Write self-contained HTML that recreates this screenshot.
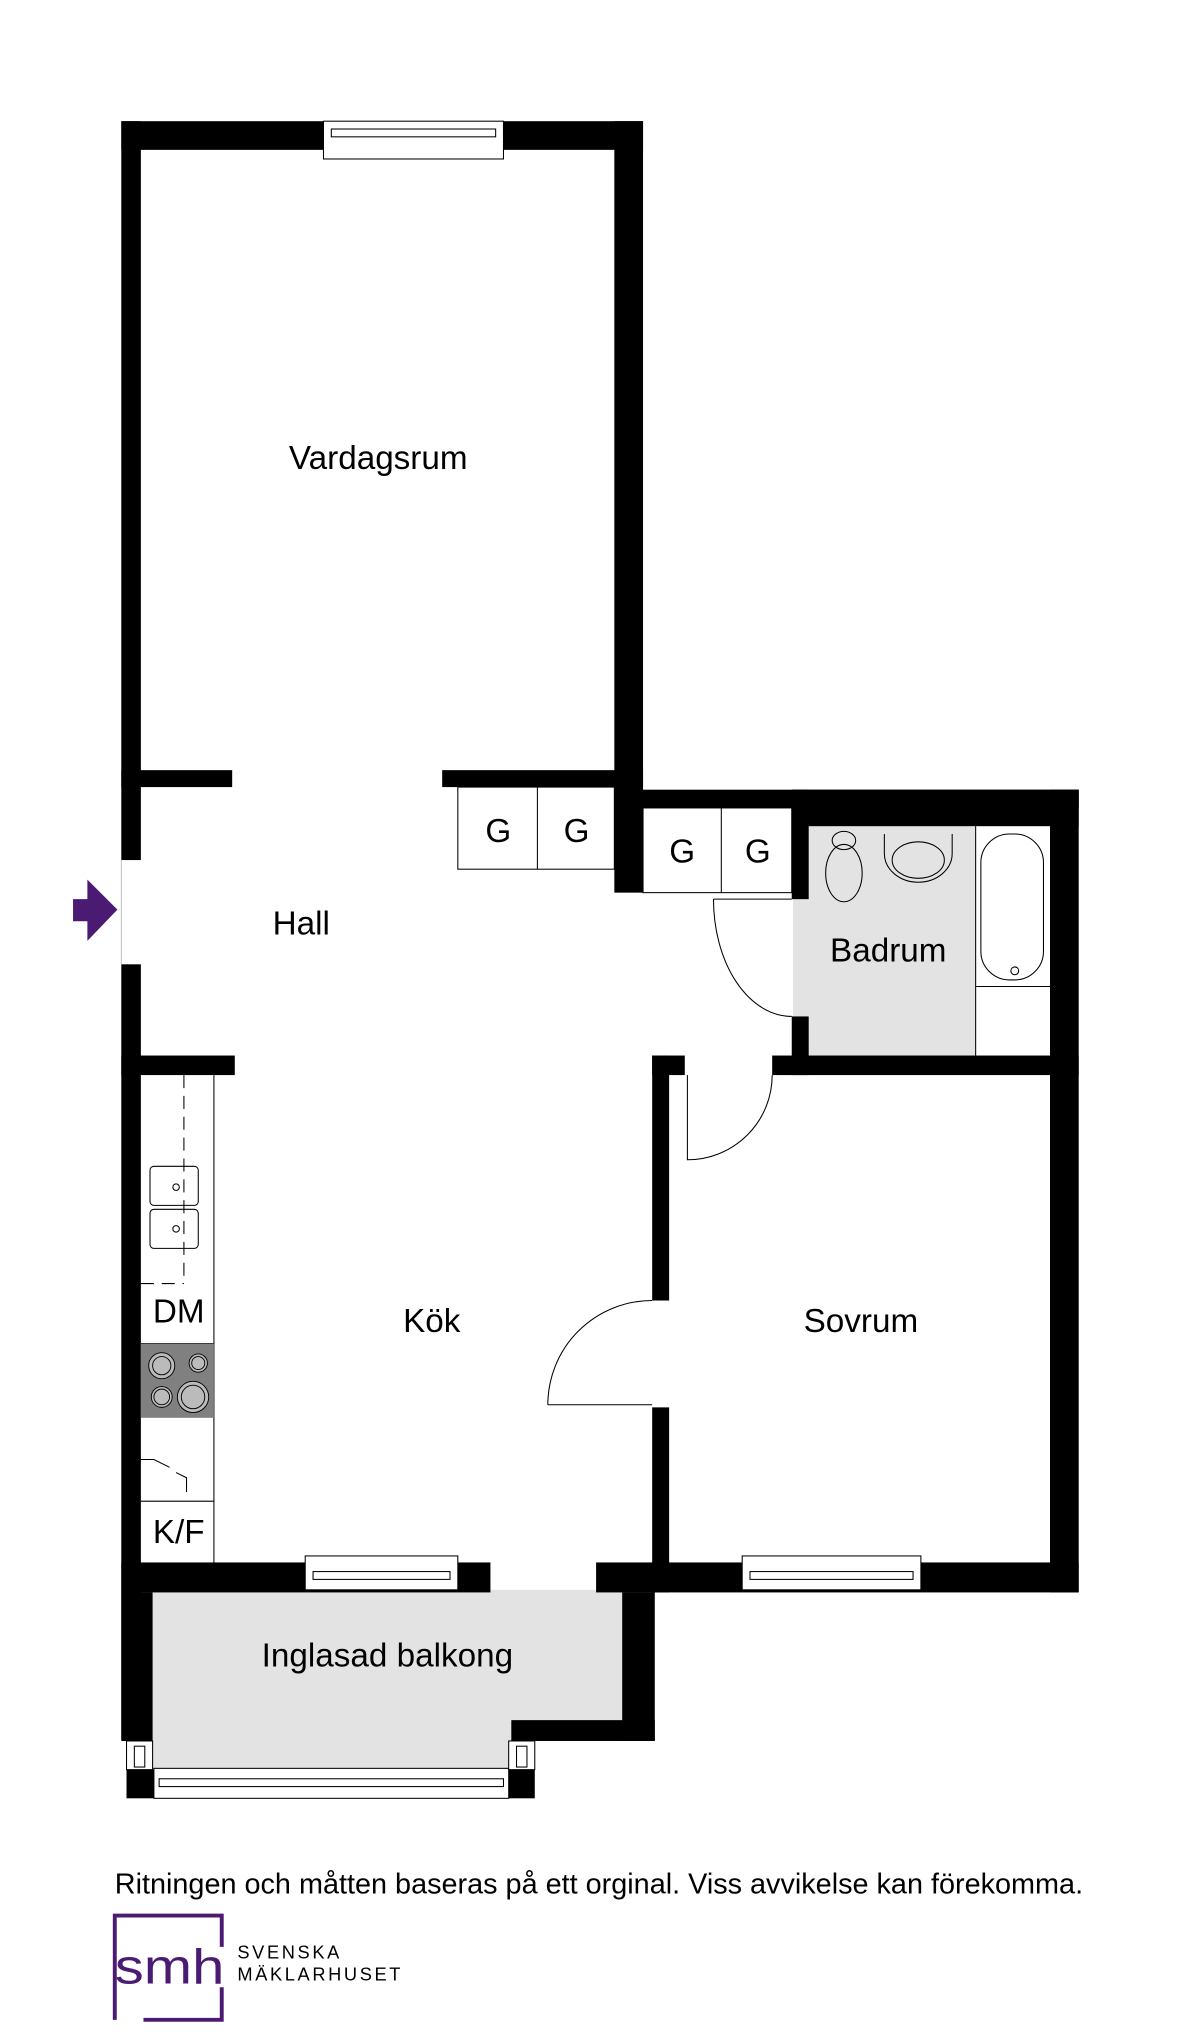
<!DOCTYPE html>
<html><head><meta charset="utf-8"><style>
html,body{margin:0;padding:0;background:#fff}
svg{display:block}
text{font-family:"Liberation Sans",Arial,sans-serif;fill:#000}
</style></head><body>
<svg width="1200" height="2042" viewBox="0 0 920 1567" preserveAspectRatio="none" xmlns="http://www.w3.org/2000/svg">
<rect x="608" y="634" width="140" height="177" fill="#e3e3e3"/>
<rect x="117" y="1220" width="360" height="100" fill="#e3e3e3"/>
<rect x="117" y="1318" width="275" height="42" fill="#e3e3e3"/>
<g fill="#000">
<rect x="93" y="93" width="400" height="22"/>
<rect x="93" y="93" width="15" height="567"/>
<rect x="471" y="93" width="22" height="592"/>
<rect x="93" y="591" width="85" height="13"/>
<rect x="339" y="591" width="154" height="13"/>
<rect x="93" y="740" width="15" height="595"/>
<rect x="471" y="606" width="356" height="14"/>
<rect x="607" y="606" width="220" height="28"/>
<rect x="607" y="606" width="13" height="84"/>
<rect x="607" y="780" width="13" height="45"/>
<rect x="805" y="606" width="22" height="616"/>
<rect x="592" y="810" width="235" height="15"/>
<rect x="500" y="810" width="25" height="15"/>
<rect x="500" y="810" width="13" height="188"/>
<rect x="500" y="1080" width="13" height="142"/>
<rect x="93" y="810" width="87" height="15"/>
<rect x="93" y="1199" width="283" height="23"/>
<rect x="457" y="1199" width="370" height="23"/>
<rect x="93" y="1222" width="24" height="114"/>
<rect x="477" y="1222" width="25" height="114"/>
<rect x="392" y="1320" width="110" height="16"/>
<rect x="97" y="1358" width="22" height="22"/>
<rect x="388" y="1358" width="22" height="22"/>
</g>
<g fill="#fff" stroke="#000" stroke-width="0.8">
<rect x="248" y="93" width="138" height="29"/>
<rect x="254" y="99" width="126" height="6"/>
<rect x="234" y="1194" width="117" height="26"/>
<rect x="240" y="1206" width="105" height="6"/>
<rect x="569" y="1194" width="137" height="26"/>
<rect x="575" y="1206" width="125" height="6"/>
<rect x="118" y="1357" width="272" height="23"/>
<rect x="122" y="1365" width="264" height="6"/>
<rect x="97" y="1336" width="20" height="22"/>
<rect x="103" y="1340" width="8" height="16"/>
<rect x="390" y="1336" width="20" height="22"/>
<rect x="396" y="1340" width="8" height="16"/>
</g>
<g fill="none" stroke="#000" stroke-width="0.8">
<rect x="351" y="604" width="120" height="63"/>
<line x1="412" y1="604" x2="412" y2="667"/>
<rect x="493" y="620" width="114" height="65"/>
<line x1="553" y1="620" x2="553" y2="685"/>
<path d="M547 690 H607 M547 690 A60 90 0 0 0 607 780"/>
<path d="M527 825 V890 A65 65 0 0 0 592 825"/>
<path d="M420 1078 H500 M420 1078 A80 80 0 0 1 500 998"/>
<line x1="748" y1="634" x2="748" y2="810"/>
<line x1="748" y1="757" x2="805" y2="757"/>
<rect x="752" y="640" width="48" height="112" rx="22"/>
<circle cx="778" cy="745" r="3"/>
<ellipse cx="647" cy="670" rx="14" ry="22"/>
<ellipse cx="647" cy="645" rx="9" ry="7"/>
<path d="M678 640 V655 A26 22 0 0 0 730 655 V640"/>
<ellipse cx="704" cy="660" rx="20" ry="14"/>
<line x1="164" y1="825" x2="164" y2="1199"/>
<line x1="141" y1="825" x2="141" y2="985" stroke-dasharray="10 6"/>
<line x1="108" y1="985" x2="141" y2="985" stroke-dasharray="10 6"/>
<rect x="115" y="895" width="37" height="30" rx="3"/>
<rect x="115" y="928" width="37" height="30" rx="3"/>
<circle cx="135" cy="911" r="2.5"/><circle cx="135" cy="943" r="2.5"/>
<line x1="108" y1="1031" x2="164" y2="1031"/>
<line x1="108" y1="1152" x2="164" y2="1152"/>
<path d="M108 1120 H118 L130 1126 M135 1130 L143 1134 V1145"/>
</g>
<rect x="108" y="1031" width="56" height="57" fill="#808080"/>
<g fill="#bbb" stroke="#000" stroke-width="0.7">
<circle cx="124" cy="1048" r="10"/><circle cx="124" cy="1048" r="7"/>
<circle cx="152" cy="1046" r="7"/><circle cx="152" cy="1046" r="5"/>
<circle cx="124" cy="1072" r="8"/><circle cx="124" cy="1072" r="6"/>
<circle cx="148" cy="1072" r="12"/><circle cx="148" cy="1072" r="9"/>
</g>
<polygon points="56,690 67,690 67,675 90,698 67,722 67,707 56,707" fill="#4b1a73"/>
<line x1="93" y1="660" x2="93" y2="740" stroke="#bbb" stroke-width="0.7"/>
<g font-size="25.5" text-anchor="middle">
<text x="290" y="360">Vardagsrum</text>
<text x="231" y="717">Hall</text>
<text x="681" y="738">Badrum</text>
<text x="331" y="1022">Kök</text>
<text x="660" y="1022">Sovrum</text>
<text x="297" y="1279">Inglasad balkong</text>
<text x="382" y="646">G</text>
<text x="442" y="646">G</text>
<text x="523" y="662">G</text>
<text x="581" y="662">G</text>
<text x="137" y="1015">DM</text>
<text x="137" y="1184">K/F</text>
</g>
<text x="88" y="1453" font-size="22.1">Ritningen och måtten baseras på ett orginal. Viss avvikelse kan förekomma.</text>
<path d="M88 1550 V1470 H170 V1494" fill="none" stroke="#4b1a73" stroke-width="3"/>
<path d="M170 1525 V1550 H110" fill="none" stroke="#4b1a73" stroke-width="3"/>
<text x="88" y="1522" font-size="38" style="fill:#4b1a73" textLength="84" lengthAdjust="spacingAndGlyphs">smh</text>
<text x="182" y="1503" font-size="14" letter-spacing="2">SVENSKA</text>
<text x="182" y="1520" font-size="14" letter-spacing="2">MÄKLARHUSET</text>
</svg>
</body></html>
